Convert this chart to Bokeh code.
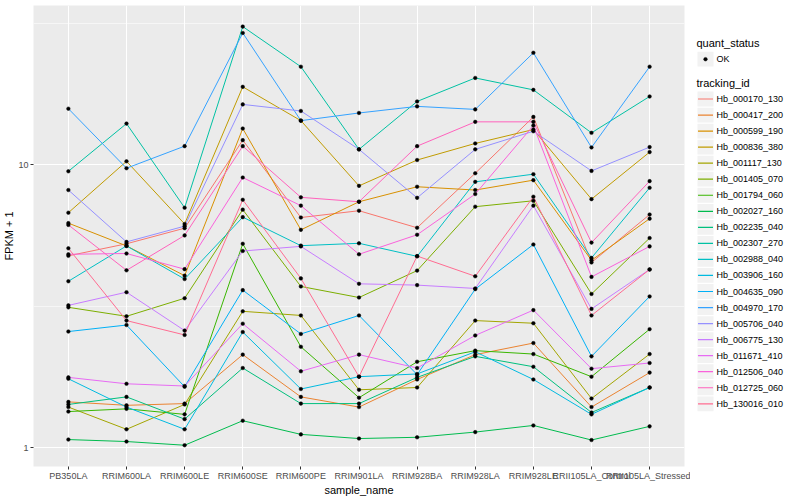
from bokeh.plotting import figure
from bokeh.models import Range1d, FixedTicker, NumeralTickFormatter
from bokeh.layouts import row
from bokeh.embed import file_html
from bokeh.resources import INLINE
from bokeh.core.properties import value

samples = ["PB350LA", "RRIM600LA", "RRIM600LE", "RRIM600SE", "RRIM600PE", "RRIM901LA",
           "RRIM928BA", "RRIM928LA", "RRIM928LE", "RRII105LA_Control", "RRII105LA_Stressed"]

tracking_ids = ["Hb_000170_130", "Hb_000417_200", "Hb_000599_190", "Hb_000836_380",
                "Hb_001117_130", "Hb_001405_070", "Hb_001794_060", "Hb_002027_160",
                "Hb_002235_040", "Hb_002307_270", "Hb_002988_040", "Hb_003906_160",
                "Hb_004635_090", "Hb_004970_170", "Hb_005706_040", "Hb_006775_130",
                "Hb_011671_410", "Hb_012506_040", "Hb_012725_060", "Hb_130016_010"]

# FPKM + 1 per sample (order of samples)
hb_000170_130 = [4.76, 5.25, 5.96, 12.20, 6.50, 6.87, 5.98, 9.32, 14.74, 4.51, 6.66]
hb_000417_200 = [1.45, 1.41, 1.43, 2.13, 1.51, 1.39, 1.74, 2.13, 2.34, 1.39, 1.84]
hb_000599_190 = [6.21, 5.16, 4.05, 13.41, 5.88, 7.39, 8.35, 8.13, 8.81, 4.59, 6.44]
hb_000836_380 = [6.76, 10.27, 6.17, 18.83, 14.30, 8.41, 10.38, 11.88, 13.30, 7.55, 11.07]
hb_001117_130 = [1.39, 1.16, 1.42, 3.03, 2.93, 1.60, 1.63, 2.81, 2.75, 1.49, 2.14]
hb_001405_070 = [3.13, 2.91, 3.37, 6.93, 3.71, 3.39, 4.22, 7.10, 7.45, 3.49, 5.50]
hb_001794_060 = [1.34, 1.37, 1.31, 5.25, 2.27, 1.50, 2.01, 2.20, 2.14, 1.78, 2.62]
hb_002027_160 = [1.067, 1.050, 1.019, 1.244, 1.113, 1.076, 1.087, 1.134, 1.197, 1.063, 1.188]
hb_002235_040 = [1.42, 1.51, 1.26, 1.91, 1.43, 1.43, 1.77, 2.10, 1.93, 1.33, 1.63]
hb_002307_270 = [9.47, 13.96, 7.04, 30.74, 22.18, 11.32, 16.72, 20.24, 18.37, 12.95, 17.41]
hb_002988_040 = [3.87, 5.16, 3.94, 6.52, 5.17, 5.27, 4.74, 8.69, 9.25, 4.68, 8.28]
hb_003906_160 = [1.75, 1.39, 1.16, 2.56, 1.61, 1.78, 1.82, 2.18, 1.74, 1.31, 1.63]
hb_004635_090 = [2.57, 2.71, 1.64, 3.60, 2.52, 2.93, 1.81, 3.63, 5.22, 2.10, 3.42]
hb_004970_170 = [15.76, 9.71, 11.62, 29.19, 14.30, 15.22, 16.06, 15.67, 24.84, 11.50, 22.18]
hb_005706_040 = [8.13, 5.33, 6.06, 16.32, 15.47, 11.32, 7.63, 11.32, 13.12, 9.50, 11.53]
hb_006775_130 = [3.18, 3.54, 2.59, 4.95, 5.14, 3.79, 3.75, 3.65, 7.16, 3.09, 4.26]
hb_011671_410 = [1.77, 1.68, 1.65, 2.74, 1.86, 2.13, 1.91, 2.49, 3.06, 1.90, 1.99]
hb_012506_040 = [4.82, 4.85, 4.27, 9.00, 7.16, 4.82, 5.65, 7.87, 13.74, 4.01, 5.14]
hb_012725_060 = [6.12, 4.23, 5.62, 11.62, 7.66, 7.39, 11.62, 14.16, 14.16, 5.30, 8.74]
hb_130016_010 = [5.06, 2.81, 2.50, 7.51, 3.96, 1.78, 4.75, 4.03, 7.70, 2.93, 4.26]

series = [hb_000170_130, hb_000417_200, hb_000599_190, hb_000836_380, hb_001117_130,
          hb_001405_070, hb_001794_060, hb_002027_160, hb_002235_040, hb_002307_270,
          hb_002988_040, hb_003906_160, hb_004635_090, hb_004970_170, hb_005706_040,
          hb_006775_130, hb_011671_410, hb_012506_040, hb_012725_060, hb_130016_010]

colors = ["#F8766D", "#EA8331", "#D89000", "#C09B00", "#A3A500", "#7CAE00", "#39B600",
          "#00BB4E", "#00BF7D", "#00C1A3", "#00BFC4", "#00BAE0", "#00B0F6", "#35A2FF",
          "#9590FF", "#C77CFF", "#E76BF3", "#FA62DB", "#FF62BC", "#FF6C91"]

status_labels = ["OK"]

FONT = "Liberation Sans"
H = 498

x_pos = list(range(1, len(samples) + 1))

p = figure(width=690, height=H, output_backend="svg", toolbar_location=None,
           y_axis_type="log", x_range=Range1d(0.4, len(samples) + 0.6),
           y_range=Range1d(0.857, 36.5),
           min_border_top=5, min_border_right=6, min_border_left=2, min_border_bottom=0)
p.background_fill_color = "#EBEBEB"
p.border_fill_color = "white"
p.outline_line_color = None

p.xaxis.ticker = FixedTicker(ticks=x_pos)
p.xaxis.major_label_overrides = {i: s for i, s in zip(x_pos, samples)}
p.yaxis.ticker = FixedTicker(ticks=[1, 10], minor_ticks=[3.1623, 31.623])
p.yaxis.formatter = NumeralTickFormatter(format="0")

p.xaxis.axis_label = "sample_name"
p.yaxis.axis_label = "FPKM + 1"
p.axis.axis_line_color = None
p.axis.major_tick_line_color = "#333333"
p.axis.major_tick_out = 3
p.axis.major_tick_in = 0
p.axis.minor_tick_line_color = None
p.axis.major_label_text_color = "#4D4D4D"
p.axis.major_label_text_font = FONT
p.axis.major_label_text_font_size = "9px"
p.axis.major_label_text_line_height = 1.0
p.axis.major_label_standoff = 1
p.axis.axis_label_text_font = FONT
p.axis.axis_label_text_font_size = "11px"
p.axis.axis_label_text_font_style = "normal"
p.axis.axis_label_text_color = "black"
p.axis.axis_label_text_line_height = 1.0
p.axis.axis_label_standoff = 0

p.xgrid.grid_line_color = "white"
p.xgrid.grid_line_width = 1.1
p.ygrid.grid_line_color = "white"
p.ygrid.grid_line_width = 1.1
p.ygrid.minor_grid_line_color = "white"
p.ygrid.minor_grid_line_width = 0.55

for vals, col in zip(series, colors):
    p.line(x_pos, vals, line_color=col, line_width=1.0)
for vals in series:
    p.scatter(x_pos, vals, size=3.6, marker="circle", fill_color="black",
              line_color="black", line_width=0.5)

# legend panel (pixel coordinates)
LW = 106
lg = figure(width=LW, height=H, output_backend="svg", toolbar_location=None,
            x_range=Range1d(0, LW), y_range=Range1d(H, 0),
            x_axis_location=None, y_axis_location=None, min_border=0)
lg.outline_line_color = None
lg.grid.visible = False
lg.background_fill_color = "white"
lg.border_fill_color = "white"

key_x = 15
text_x = 26
item_y = [101 + 17.33 * i for i in range(len(tracking_ids))]

lg.text(x=[6, 6], y=[41, 84], text=["quant_status", "tracking_id"],
        text_font=value(FONT), text_font_size=value("11px"),
        text_baseline="middle", text_color="black")

lg.rect(x=[key_x], y=[58], width=16, height=16, fill_color="#F2F2F2", line_color=None)
lg.scatter(x=[key_x], y=[58], size=3.6, marker="circle", fill_color="black",
           line_color="black", line_width=0.5)
lg.text(x=[text_x], y=[58], text=status_labels, text_font=value(FONT),
        text_font_size=value("9px"), text_baseline="middle", text_color="black")

lg.rect(x=[key_x] * len(item_y), y=item_y, width=16, height=16,
        fill_color="#F2F2F2", line_color=None)
lg.segment(x0=[key_x - 7.5] * len(item_y), x1=[key_x + 7.5] * len(item_y),
           y0=item_y, y1=item_y, line_color=colors, line_width=1.2)
lg.text(x=[text_x] * len(item_y), y=item_y, text=tracking_ids, text_font=value(FONT),
        text_font_size=value("9px"), text_baseline="middle", text_color="black")

layout = row(p, lg)
open("out.html", "w").write(file_html(layout, INLINE))
